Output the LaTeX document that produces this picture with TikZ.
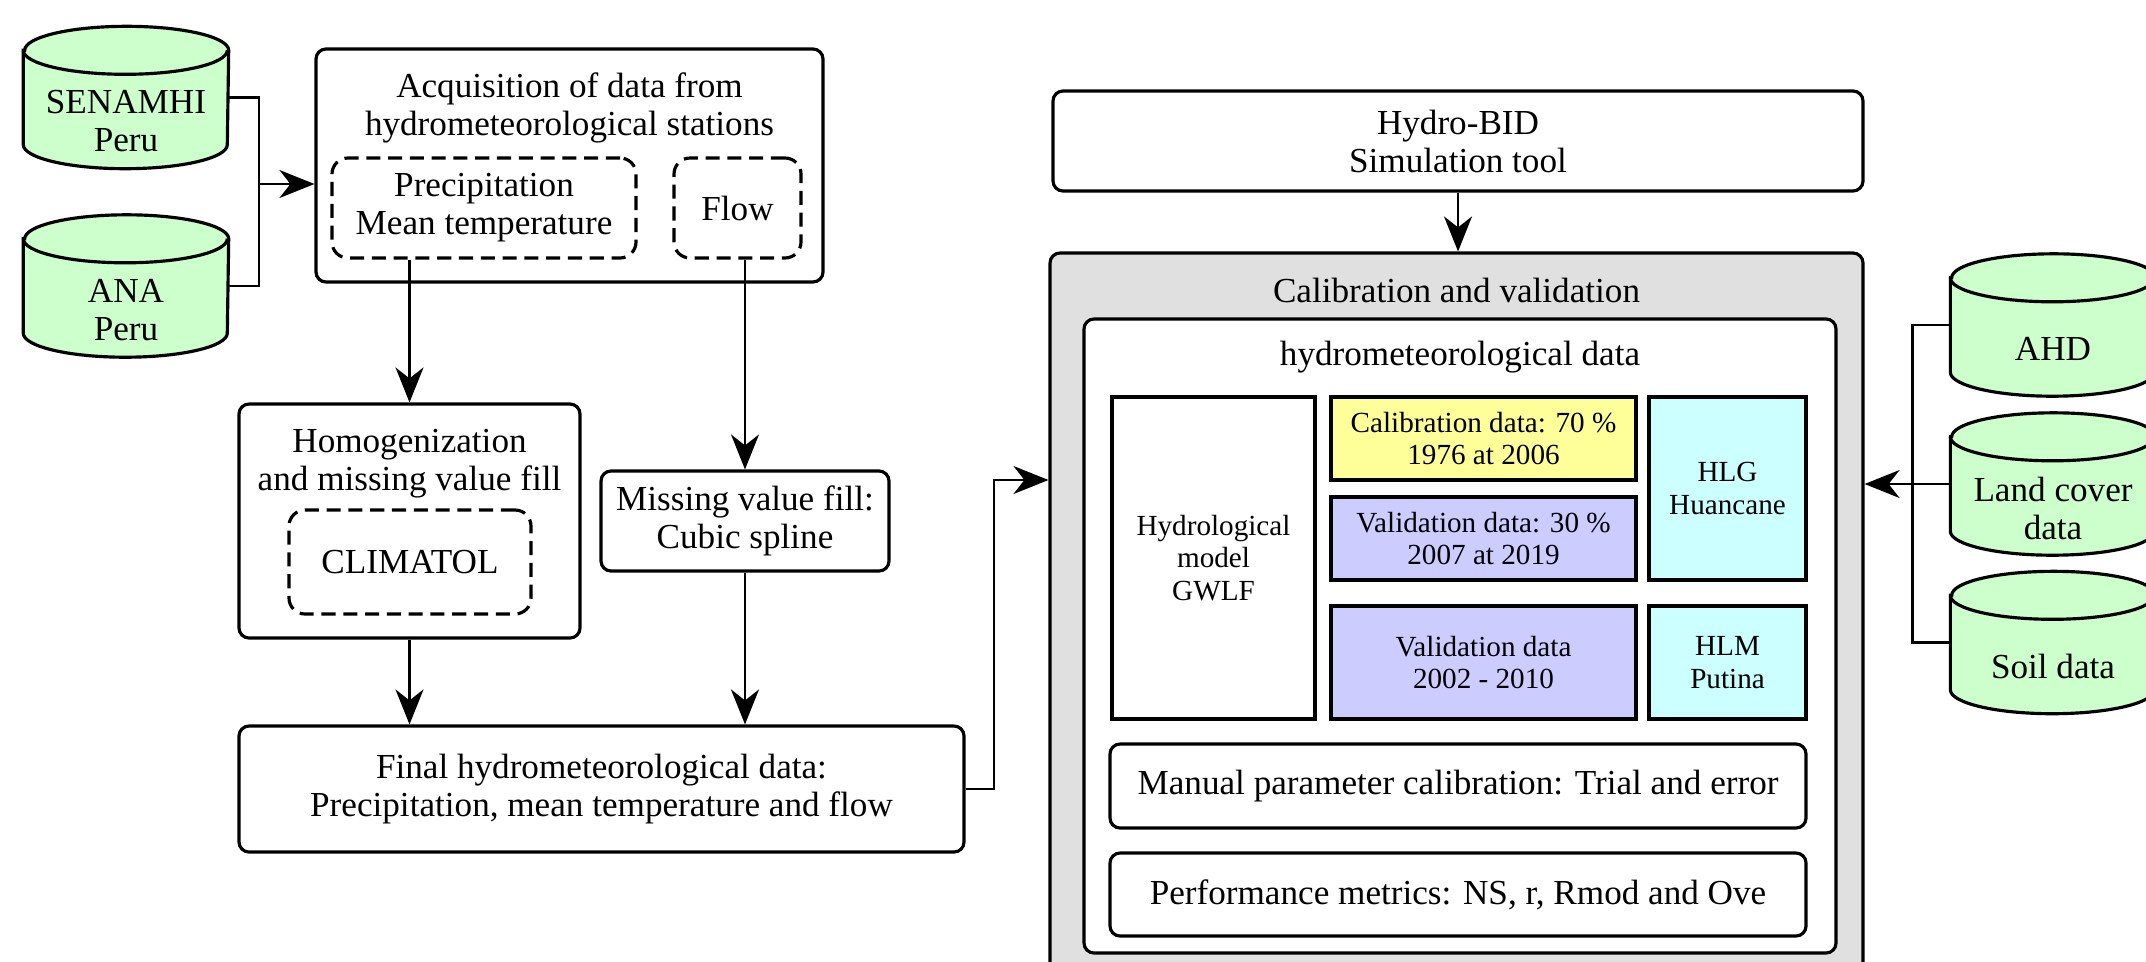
\documentclass[tikz,border=0pt]{standalone}
\usepackage{fontspec}
\setmainfont{Liberation Serif}
\usetikzlibrary{arrows.meta,positioning,calc}
\definecolor{dbc}{RGB}{204,255,204}
\definecolor{cac}{RGB}{255,255,153}
\definecolor{vac}{RGB}{204,204,255}
\definecolor{stc}{RGB}{204,255,255}
\definecolor{bgc}{RGB}{224,224,224}
\tikzset{box/.style={draw,rounded corners=1mm,line width=.9pt,align=center,inner sep=0pt},
 dbox/.style={box,dash pattern=on 4pt off 2.2pt,rounded corners=1.6mm},
 sbox/.style={draw,line width=.9pt,align=center,inner sep=0pt,font=\fontsize{8.3}{9.3}\selectfont},
 dbn/.style={minimum width=2.04cm,minimum height=1.41cm,inner sep=0pt},
 cyl/.style={draw,line width=.9pt},
 txt/.style={align=center,inner sep=0pt},
 wire/.style={line width=.7pt},arr/.style={-{Stealth[length=3.5mm,width=2.8mm,inset=1.1mm]},line width=.7pt},
 every node/.style={font=\fontsize{10}{10.8}\selectfont}}
% database cylinder: name, position, text
\newcommand\dbcyl[3]{%
 \node[dbn] (#1) at (#2) {};
 \filldraw[cyl,fill=dbc] ($(#1.north west)+(0,-.24)$) -- ($(#1.south west)+(0,.24)$)
  arc[start angle=180,end angle=360,x radius=1.02cm,y radius=.24cm]
  -- ($(#1.north east)+(0,-.24)$)
  arc[start angle=0,end angle=180,x radius=1.02cm,y radius=.24cm] -- cycle;
 \draw[cyl] ($(#1.north west)+(0,-.24)$) arc[start angle=180,end angle=360,x radius=1.02cm,y radius=.24cm];
 \node[txt] (#1t) at ($(#1)+(0,-.24)$) {#3};}
\begin{document}
\begin{tikzpicture}
\useasboundingbox (0,0) rectangle (21.46,-9.61);
% data sources
\dbcyl{sen}{1.26,-0.975}{SENAMHI\\Peru}
\dbcyl{ana}{1.26,-2.86}{ANA\\Peru}
% acquisition
\node[box,minimum width=5.07cm,minimum height=2.33cm] (acq) at (5.695,-1.655) {};
\node[txt] (acqt) at (5.695,-1.08) {Acquisition of data from\\hydrometeorological stations};
\node[dbox,minimum width=3.04cm,minimum height=1cm] (prec) at (4.84,-2.08) {Precipitation\\Mean temperature};
\node[dbox,minimum width=1.27cm,minimum height=1cm] (flow) at (7.375,-2.08) {Flow};
\coordinate (j1) at (2.59,-1.84);
\draw[wire] (sen.east) -| (j1) |- (ana.east);
\draw[arr] (j1) -- (j1 -| acq.west);
% filling
\node[box,minimum width=3.41cm,minimum height=2.34cm] (homog) at (4.095,-5.21) {};
\node[txt] (homogt) at (4.095,-4.64) {Homogenization\\and missing value fill};
\node[dbox,minimum width=2.42cm,minimum height=1.04cm] (clim) at (4.10,-5.62) {CLIMATOL};
\node[box,minimum width=2.88cm,minimum height=1cm] (miss) at (7.45,-5.21) {Missing value fill:\\Cubic spline};
\node[box,minimum width=7.25cm,minimum height=1.26cm] (final) at (6.015,-7.89) {Final hydrometeorological data:\\Precipitation, mean temperature and flow};
\draw[arr] (homog.north |- prec.south) -- (homog.north);
\draw[arr] (miss.north |- flow.south) -- (miss.north);
\draw[arr] (homog.south) -- (homog.south |- final.north);
\draw[arr] (miss.south) -- (miss.south |- final.north);
% model
\node[box,minimum width=8.10cm,minimum height=1cm] (bid) at (14.58,-1.41) {Hydro-BID\\Simulation tool};
\node[box,fill=bgc,minimum width=8.13cm,minimum height=7.47cm] (calib) at (14.565,-6.265) {};
\node[txt] (calibt) at (14.565,-2.90) {Calibration and validation};
\node[box,fill=white,minimum width=7.52cm,minimum height=6.34cm] (hyd) at (14.60,-6.36) {};
\node[txt] (hydt) at (14.60,-3.57) {hydrometeorological data};
\node[sbox,fill=white,minimum width=2.03cm,minimum height=3.22cm] (model) at (12.135,-5.58) {Hydrological\\model\\GWLF};
\node[sbox,fill=cac,minimum width=3.05cm,minimum height=.83cm] (cal) at (14.835,-4.385) {Calibration data: 70 \%\\1976 at 2006};
\node[sbox,fill=vac,minimum width=3.05cm,minimum height=.83cm] (val1) at (14.835,-5.385) {Validation data: 30 \%\\2007 at 2019};
\node[sbox,fill=vac,minimum width=3.05cm,minimum height=1.13cm] (val2) at (14.835,-6.625) {Validation data\\2002 - 2010};
\node[sbox,fill=stc,minimum width=1.57cm,minimum height=1.83cm] (hlg) at (17.275,-4.885) {HLG\\Huancane};
\node[sbox,fill=stc,minimum width=1.57cm,minimum height=1.13cm] (hlm) at (17.275,-6.625) {HLM\\Putina};
\node[box,minimum width=6.96cm,minimum height=.84cm] (manual) at (14.58,-7.86) {Manual parameter calibration: Trial and error};
\node[box,minimum width=6.96cm,minimum height=.83cm] (perf) at (14.58,-8.945) {Performance metrics: NS, r, Rmod and Ove};
\coordinate (j2) at (9.94,-4.80);
\draw[arr] (final.east) -| (j2) -- (j2 -| calib.west);
\draw[arr] (bid.south) -- (bid.south |- calib.north);
% basin data
\dbcyl{ahd}{20.53,-3.25}{AHD}
\dbcyl{land}{20.53,-4.84}{Land cover\\data}
\dbcyl{soil}{20.53,-6.425}{Soil data}
\draw[wire] (ahd.west) -- ++(-.38,0) |- (soil.west);
\draw[arr] (land.west) -- (land.west -| calib.east);
\end{tikzpicture}
\end{document}
